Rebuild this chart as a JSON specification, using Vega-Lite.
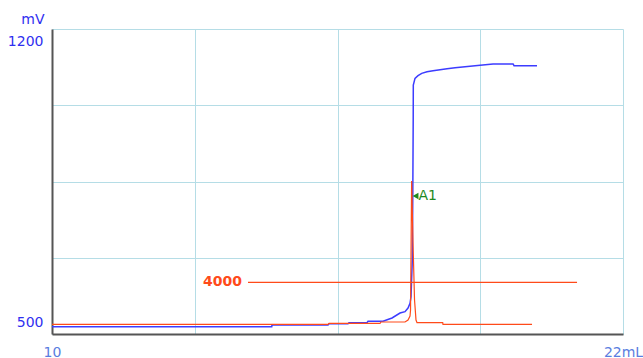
{
  "$schema": "https://vega.github.io/schema/vega-lite/v6.json",
  "width": 571,
  "height": 305,
  "autosize": {"type": "none"},
  "padding": {"left": 52, "top": 29, "right": 20, "bottom": 24},
  "background": "white",
  "config": {
    "view": {"stroke": null},
    "font": "DejaVu Sans"
  },
  "datasets": {
    "titration": [
      {"mL": 10.0, "mV": 516.8},
      {"mL": 14.618, "mV": 516.8},
      {"mL": 14.624, "mV": 520.7},
      {"mL": 15.801, "mV": 520.7},
      {"mL": 15.822, "mV": 523.6},
      {"mL": 16.221, "mV": 523.6},
      {"mL": 16.242, "mV": 525.9},
      {"mL": 16.62, "mV": 525.9},
      {"mL": 16.641, "mV": 529.1},
      {"mL": 16.957, "mV": 529.1},
      {"mL": 17.146, "mV": 536.7},
      {"mL": 17.314, "mV": 548.2},
      {"mL": 17.419, "mV": 551.2},
      {"mL": 17.482, "mV": 559.7},
      {"mL": 17.524, "mV": 570.5},
      {"mL": 17.545, "mV": 585.6},
      {"mL": 17.572, "mV": 669.8},
      {"mL": 17.583, "mV": 830.5},
      {"mL": 17.591, "mV": 991.1},
      {"mL": 17.593, "mV": 1071.5},
      {"mL": 17.629, "mV": 1086.8},
      {"mL": 17.692, "mV": 1092.8},
      {"mL": 17.77, "mV": 1098.3},
      {"mL": 17.881, "mV": 1102.0},
      {"mL": 18.008, "mV": 1104.3},
      {"mL": 18.155, "mV": 1106.6},
      {"mL": 18.302, "mV": 1108.9},
      {"mL": 18.47, "mV": 1111.2},
      {"mL": 18.68, "mV": 1113.5},
      {"mL": 18.891, "mV": 1115.7},
      {"mL": 19.269, "mV": 1119.7},
      {"mL": 19.69, "mV": 1119.7},
      {"mL": 19.71, "mV": 1115.7},
      {"mL": 20.193, "mV": 1115.7}
    ],
    "derivative": [
      {"mL": 10.0, "d": 750},
      {"mL": 15.801, "d": 750},
      {"mL": 15.822, "d": 828},
      {"mL": 16.894, "d": 828},
      {"mL": 16.915, "d": 929},
      {"mL": 17.419, "d": 929},
      {"mL": 17.482, "d": 1083},
      {"mL": 17.524, "d": 1393},
      {"mL": 17.535, "d": 1857},
      {"mL": 17.558, "d": 11839},
      {"mL": 17.587, "d": 7042},
      {"mL": 17.619, "d": 2631},
      {"mL": 17.65, "d": 1083},
      {"mL": 17.671, "d": 874},
      {"mL": 18.211, "d": 874},
      {"mL": 18.217, "d": 750},
      {"mL": 20.088, "d": 750}
    ],
    "threshold": [
      {"start": 14.119, "end": 21.034, "d": 4000, "label": "4000"}
    ],
    "marker": [
      {"mL": 17.64, "mV": 816.7, "label": "A1"}
    ]
  },
  "resolve": {"scale": {"y": "independent"}},
  "layer": [
    {
      "layer": [
        {
          "data": {"name": "titration"},
          "mark": {"type": "line", "color": "#3c3cff", "strokeWidth": 1.5, "interpolate": "linear"},
          "encoding": {
            "x": {
              "field": "mL", "type": "quantitative",
              "scale": {"domain": [10, 22], "nice": false, "zero": false},
              "axis": {
                "values": [10, 13, 16, 19, 22],
                "labelExpr": "datum.value == 10 ? '10' : (datum.value == 22 ? '22mL' : '')",
                "title": null,
                "grid": true,
                "gridColor": "#b5dde6",
                "gridWidth": 1,
                "ticks": false,
                "domainColor": "#555555",
                "domainWidth": 2,
                "labelFlush": false,
                "labelColor": "#5a7de0",
                "labelFontSize": 14,
                "labelPadding": 11,
                "labelOverlap": false
              }
            },
            "y": {
              "field": "mV", "type": "quantitative",
              "scale": {"domain": [500, 1200], "nice": false, "zero": false},
              "axis": {
                "values": [500, 675, 850, 1025, 1200],
                "labelExpr": "datum.value == 500 || datum.value == 1200 ? datum.label : ''",
                "format": "d",
                "title": "mV",
                "titleAngle": 0,
                "titleAlign": "right",
                "titleBaseline": "alphabetic",
                "titleX": -8,
                "titleY": -6,
                "titleColor": "#2f2ff0",
                "titleFontSize": 14,
                "titleFontWeight": "normal",
                "grid": true,
                "gridColor": "#b5dde6",
                "gridWidth": 1,
                "ticks": false,
                "domainColor": "#555555",
                "domainWidth": 2,
                "labelFlush": false,
                "labelBaseline": {"condition": {"test": "datum.value == 1200", "value": "top"}, "value": "alphabetic"},
                "labelOffset": {"condition": {"test": "datum.value == 1200", "value": 5}, "value": -8},
                "labelColor": "#2f2ff0",
                "labelFontSize": 14,
                "labelPadding": 9,
                "labelOverlap": false
              }
            }
          }
        },
        {
          "data": {"name": "marker"},
          "mark": {"type": "point", "shape": "triangle-left", "filled": true, "size": 45, "color": "#1f8a1f", "opacity": 1},
          "encoding": {
            "x": {"field": "mL", "type": "quantitative"},
            "y": {"field": "mV", "type": "quantitative"}
          }
        },
        {
          "data": {"name": "marker"},
          "mark": {"type": "text", "align": "left", "baseline": "middle", "dx": 3, "fontSize": 14, "color": "#1f8a1f"},
          "encoding": {
            "x": {"field": "mL", "type": "quantitative"},
            "y": {"field": "mV", "type": "quantitative"},
            "text": {"field": "label"}
          }
        }
      ]
    },
    {
      "layer": [
        {
          "data": {"name": "derivative"},
          "mark": {"type": "line", "color": "#ff4a1a", "strokeWidth": 1.2, "interpolate": "linear"},
          "encoding": {
            "x": {"field": "mL", "type": "quantitative"},
            "y": {
              "field": "d", "type": "quantitative",
              "scale": {"domain": [0, 23600], "nice": false, "zero": false},
              "axis": null
            }
          }
        },
        {
          "data": {"name": "threshold"},
          "mark": {"type": "rule", "color": "#ff4a1a", "strokeWidth": 1.2},
          "encoding": {
            "x": {"field": "start", "type": "quantitative"},
            "x2": {"field": "end"},
            "y": {"field": "d", "type": "quantitative"}
          }
        },
        {
          "data": {"name": "threshold"},
          "mark": {"type": "text", "align": "right", "baseline": "middle", "dx": -6, "fontSize": 14, "fontWeight": "bold", "color": "#ff4a1a"},
          "encoding": {
            "x": {"field": "start", "type": "quantitative"},
            "y": {"field": "d", "type": "quantitative"},
            "text": {"field": "label"}
          }
        }
      ]
    }
  ]
}
